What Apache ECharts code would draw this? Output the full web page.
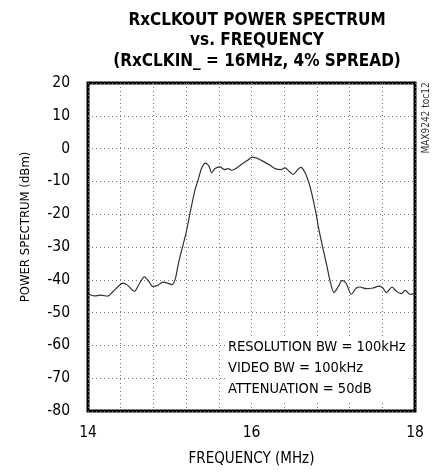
<!DOCTYPE html>
<html>
<head>
<meta charset="utf-8">
<script src="https://cdn.jsdelivr.net/npm/echarts@6/dist/echarts.min.js"></script>
<style>
    html, body { margin: 0; padding: 0; background: #fff; }
    #chart { width: 438px; height: 474px; }
</style>
</head>
<body>
<div id="chart"></div>
<script>
(function(){

    // frequency (MHz) / power (dBm)
    let freqMHz = [
        14.016, 14.077, 14.159, 14.241, 14.302, 14.363, 14.424, 14.486, 14.566, 14.628,
        14.689, 14.750, 14.791, 14.853, 14.914, 14.975, 15.027, 15.068, 15.097, 15.125,
        15.199, 15.248, 15.309, 15.342, 15.391, 15.440, 15.480, 15.513, 15.553, 15.615,
        15.667, 15.716, 15.758, 15.819, 15.900, 15.961, 16.010, 16.064, 16.144, 16.226,
        16.287, 16.361, 16.410, 16.459, 16.511, 16.565, 16.605, 16.654, 16.703, 16.736,
        16.789, 16.817, 16.878, 16.920, 16.956, 17.009, 17.058, 17.111, 17.160, 17.221,
        17.282, 17.324, 17.404, 17.486, 17.560, 17.608, 17.649, 17.719, 17.771, 17.832,
        17.881, 17.935, 17.996
    ];
    let powerDBm = [
        -44.4, -44.9, -44.7, -45.0, -43.7, -42.2, -41.0, -41.7, -43.5, -41.2,
        -39.1, -40.7, -42.0, -41.7, -40.7, -41.0, -41.5, -39.7, -36.1, -33.0,
        -25.8, -19.7, -12.6, -10.0, -5.9, -4.4, -5.4, -7.4, -6.1, -5.6,
        -6.4, -6.1, -6.6, -5.9, -4.4, -3.4, -2.6, -2.9, -3.9, -5.1,
        -6.1, -6.4, -5.9, -6.9, -7.9, -6.4, -5.7, -7.3, -10.5, -13.6,
        -19.7, -23.8, -30.9, -35.5, -39.7, -43.9, -42.2, -40.2, -41.2, -44.4,
        -42.5, -42.2, -42.7, -42.5, -41.9, -42.5, -43.9, -42.2, -43.5, -44.2,
        -43.2, -44.4, -44.2
    ];
    let xTickLabels = [14, 16, 18];
    let notes = ['RESOLUTION BW = 100kHz', 'VIDEO BW = 100kHz', 'ATTENUATION = 50dB'];

    let font = "'Liberation Sans Narrow', 'DejaVu Sans Condensed', 'Roboto', sans-serif";

    let chart = echarts.init(document.getElementById('chart'), null, {renderer: 'canvas'});

    let opts = {
        animation: false,
        backgroundColor: '#fff',
        title: {
            text: 'RxCLKOUT POWER SPECTRUM\nvs. FREQUENCY\n(RxCLKIN_ = 16MHz, 4% SPREAD)',
            left: 252,
            top: 5,
            textAlign: 'center',
            textStyle: {
                fontFamily: font,
                fontWeight: 'bold',
                fontSize: 17,
                lineHeight: 20.5,
                color: '#000'
            }
        },
        grid: {
            left: 88,
            right: 23,
            top: 83,
            bottom: 63,
            show: true,
            borderColor: '#000',
            borderWidth: 3,
            containLabel: false
        },
        xAxis: {
            type: 'value',
            min: 14,
            max: 18,
            interval: 0.4,
            name: 'FREQUENCY (MHz)',
            nameLocation: 'middle',
            nameGap: 41,
            nameTextStyle: { fontFamily: font, fontSize: 15, color: '#000' },
            axisLine: { show: false },
            axisTick: { show: false },
            axisLabel: {
                margin: 14,
                fontFamily: font,
                fontSize: 15.5,
                color: '#000',
                formatter: function(v){
                    let hit = xTickLabels.find((t) => Math.abs(t - v) < 1e-6);
                    return (hit === undefined) ? '' : String(hit);
                }
            },
            splitLine: {
                show: true,
                lineStyle: { color: '#777', type: [1, 3], width: 1 }
            }
        },
        yAxis: {
            type: 'value',
            min: -80,
            max: 20,
            interval: 10,
            name: 'POWER SPECTRUM (dBm)',
            nameLocation: 'middle',
            nameGap: 56,
            nameTextStyle: { fontFamily: font, fontSize: 13, color: '#000', padding: [0, 0, 0, 40] },
            axisLine: { show: false },
            axisTick: { show: false },
            axisLabel: {
                margin: 18,
                fontFamily: font,
                fontSize: 15.5,
                color: '#000'
            },
            splitLine: {
                show: true,
                lineStyle: { color: '#777', type: [1, 3], width: 1 }
            }
        },
        series: [{
            type: 'line',
            data: freqMHz.map((f, i) => [f, powerDBm[i]]),
            smooth: 0.3,
            showSymbol: false,
            lineStyle: { color: '#333', width: 1.2 },
            z: 3
        }],
        graphic: [
            {
                type: 'text',
                left: 225,
                top: 337,
                z: 10,
                style: {
                    text: notes.join('\n'),
                    fontFamily: font,
                    fontSize: 14.5,
                    lineHeight: 21,
                    fill: '#000',
                    backgroundColor: '#fff',
                    padding: [0, 3, 0, 3]
                }
            },
            {
                type: 'text',
                x: 426,
                y: 118,
                rotation: Math.PI / 2,
                z: 10,
                style: {
                    text: 'MAX9242 toc12',
                    fontFamily: font,
                    fontSize: 10,
                    fill: '#333',
                    align: 'center',
                    verticalAlign: 'middle'
                }
            }
        ]
    };

    chart.setOption(opts);
})();
</script>
</body>
</html>
